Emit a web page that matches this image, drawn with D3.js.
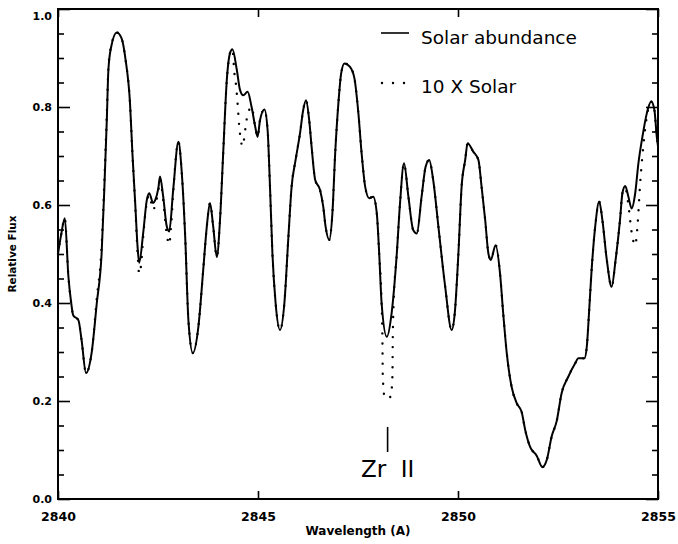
<!DOCTYPE html>
<html>
<head>
<meta charset="utf-8">
<script src="https://cdn.jsdelivr.net/npm/d3@7"></script>
<style>
  body { margin: 0; background: #fff; }
  text { font-family: "DejaVu Sans", sans-serif; fill: #000; }
</style>
</head>
<body>
<div id="chart"></div>
<script>
// solar abundance spectrum
const wavelength = [
  2840.00, 2840.08, 2840.17, 2840.26, 2840.33, 2840.38, 2840.51, 2840.59, 2840.70, 2840.84,
  2840.97, 2841.09, 2841.16, 2841.22, 2841.26, 2841.33, 2841.47, 2841.59, 2841.69, 2841.80,
  2841.86, 2841.93, 2841.99, 2842.03, 2842.13, 2842.22, 2842.28, 2842.38, 2842.43, 2842.51,
  2842.55, 2842.63, 2842.72, 2842.78, 2842.88, 2843.01, 2843.09, 2843.18, 2843.26, 2843.37,
  2843.51, 2843.63, 2843.72, 2843.80, 2843.88, 2843.97, 2844.05, 2844.13, 2844.22, 2844.30,
  2844.36, 2844.47, 2844.55, 2844.63, 2844.74, 2844.84, 2844.93, 2844.99, 2845.05, 2845.16,
  2845.24, 2845.30, 2845.36, 2845.44, 2845.55, 2845.66, 2845.76, 2845.84, 2845.94, 2846.05,
  2846.13, 2846.20, 2846.28, 2846.34, 2846.43, 2846.55, 2846.63, 2846.69, 2846.78, 2846.86,
  2846.93, 2847.01, 2847.08, 2847.16, 2847.30, 2847.41, 2847.51, 2847.59, 2847.68, 2847.78,
  2847.88, 2847.97, 2848.03, 2848.09, 2848.22, 2848.34, 2848.47, 2848.55, 2848.65, 2848.76,
  2848.88, 2848.97, 2849.09, 2849.19, 2849.28, 2849.38, 2849.51, 2849.68, 2849.84, 2849.92,
  2850.01, 2850.09, 2850.18, 2850.24, 2850.38, 2850.51, 2850.59, 2850.68, 2850.76, 2850.82,
  2850.94, 2851.05, 2851.13, 2851.22, 2851.34, 2851.47, 2851.59, 2851.68, 2851.80, 2851.97,
  2852.11, 2852.22, 2852.34, 2852.47, 2852.59, 2852.76, 2852.93, 2853.01, 2853.16, 2853.22,
  2853.28, 2853.34, 2853.43, 2853.53, 2853.61, 2853.72, 2853.84, 2853.94, 2854.05, 2854.11,
  2854.18, 2854.26, 2854.34, 2854.43, 2854.51, 2854.61, 2854.72, 2854.83, 2854.91, 2854.97,
  2855.00
];
const solarFlux = [
  0.500, 0.540, 0.573, 0.454, 0.400, 0.375, 0.365, 0.324, 0.257, 0.298,
  0.400, 0.500, 0.637, 0.773, 0.876, 0.923, 0.952, 0.940, 0.896, 0.808,
  0.706, 0.604, 0.514, 0.482, 0.543, 0.610, 0.624, 0.604, 0.610, 0.635,
  0.658, 0.617, 0.556, 0.546, 0.631, 0.729, 0.671, 0.535, 0.365, 0.298,
  0.352, 0.467, 0.556, 0.604, 0.556, 0.494, 0.569, 0.706, 0.855, 0.910,
  0.918, 0.876, 0.835, 0.824, 0.831, 0.800, 0.760, 0.739, 0.773, 0.795,
  0.753, 0.637, 0.502, 0.400, 0.345, 0.400, 0.535, 0.637, 0.692, 0.746,
  0.794, 0.814, 0.773, 0.719, 0.651, 0.631, 0.597, 0.556, 0.529, 0.583,
  0.706, 0.808, 0.869, 0.889, 0.882, 0.859, 0.787, 0.706, 0.637, 0.614,
  0.617, 0.583, 0.501, 0.400, 0.331, 0.379, 0.501, 0.603, 0.685, 0.617,
  0.549, 0.542, 0.617, 0.678, 0.692, 0.651, 0.556, 0.433, 0.345, 0.380,
  0.501, 0.637, 0.692, 0.726, 0.709, 0.692, 0.637, 0.569, 0.501, 0.488,
  0.518, 0.461, 0.379, 0.297, 0.229, 0.195, 0.178, 0.141, 0.107, 0.088,
  0.065, 0.080, 0.127, 0.160, 0.216, 0.250, 0.277, 0.287, 0.287, 0.311,
  0.386, 0.467, 0.556, 0.607, 0.569, 0.488, 0.433, 0.488, 0.569, 0.624,
  0.639, 0.617, 0.593, 0.624, 0.685, 0.739, 0.787, 0.811, 0.794, 0.739,
  0.720
];

// 10 x solar spectrum, differs from solar at the Zr II lines
const tenXWavelength = [
  2840.00, 2840.08, 2840.17, 2840.26, 2840.33, 2840.38, 2840.51, 2840.59, 2840.70, 2840.84,
  2840.97, 2841.09, 2841.16, 2841.22, 2841.26, 2841.33, 2841.47, 2841.59, 2841.69, 2841.80,
  2841.86, 2841.93, 2841.99, 2842.03, 2842.08, 2842.13, 2842.22, 2842.28, 2842.38, 2842.43,
  2842.51, 2842.55, 2842.63, 2842.72, 2842.78, 2842.83, 2842.88, 2843.01, 2843.09, 2843.18,
  2843.26, 2843.37, 2843.51, 2843.63, 2843.72, 2843.80, 2843.88, 2843.97, 2844.05, 2844.13,
  2844.22, 2844.30, 2844.36, 2844.41, 2844.45, 2844.49, 2844.53, 2844.56, 2844.61, 2844.66,
  2844.69, 2844.74, 2844.84, 2844.93, 2844.99, 2845.05, 2845.16, 2845.24, 2845.30, 2845.36,
  2845.44, 2845.55, 2845.66, 2845.76, 2845.84, 2845.94, 2846.05, 2846.13, 2846.20, 2846.28,
  2846.34, 2846.43, 2846.55, 2846.63, 2846.69, 2846.78, 2846.86, 2846.93, 2847.01, 2847.08,
  2847.16, 2847.30, 2847.41, 2847.51, 2847.59, 2847.68, 2847.78, 2847.88, 2847.97, 2848.03,
  2848.09, 2848.11, 2848.12, 2848.16, 2848.24, 2848.32, 2848.36, 2848.37, 2848.39, 2848.47,
  2848.55, 2848.65, 2848.76, 2848.88, 2848.97, 2849.09, 2849.19, 2849.28, 2849.38, 2849.51,
  2849.68, 2849.84, 2849.92, 2850.01, 2850.09, 2850.18, 2850.24, 2850.38, 2850.51, 2850.59,
  2850.68, 2850.76, 2850.82, 2850.94, 2851.05, 2851.13, 2851.22, 2851.34, 2851.47, 2851.59,
  2851.68, 2851.80, 2851.97, 2852.11, 2852.22, 2852.34, 2852.47, 2852.59, 2852.76, 2852.93,
  2853.01, 2853.16, 2853.22, 2853.28, 2853.34, 2853.43, 2853.53, 2853.61, 2853.72, 2853.84,
  2853.94, 2854.05, 2854.11, 2854.18, 2854.26, 2854.34, 2854.43, 2854.49, 2854.55, 2854.61,
  2854.72, 2854.83, 2854.91, 2854.97, 2855.00
];
const tenXFlux = [
  0.500, 0.540, 0.573, 0.454, 0.400, 0.375, 0.365, 0.324, 0.257, 0.298,
  0.410, 0.515, 0.650, 0.785, 0.880, 0.925, 0.952, 0.940, 0.896, 0.808,
  0.706, 0.600, 0.500, 0.460, 0.480, 0.535, 0.605, 0.620, 0.590, 0.600,
  0.630, 0.652, 0.610, 0.540, 0.520, 0.560, 0.625, 0.729, 0.671, 0.535,
  0.365, 0.298, 0.352, 0.467, 0.556, 0.604, 0.556, 0.494, 0.569, 0.706,
  0.855, 0.910, 0.918, 0.869, 0.845, 0.807, 0.761, 0.739, 0.720, 0.739,
  0.760, 0.784, 0.800, 0.760, 0.739, 0.773, 0.795, 0.753, 0.637, 0.502,
  0.400, 0.345, 0.400, 0.535, 0.637, 0.692, 0.746, 0.794, 0.814, 0.773,
  0.719, 0.651, 0.631, 0.597, 0.556, 0.529, 0.583, 0.706, 0.808, 0.869,
  0.889, 0.882, 0.859, 0.787, 0.706, 0.637, 0.614, 0.617, 0.583, 0.500,
  0.400, 0.330, 0.250, 0.210, 0.205, 0.210, 0.250, 0.330, 0.400, 0.500,
  0.603, 0.685, 0.617, 0.549, 0.542, 0.617, 0.678, 0.692, 0.651, 0.556,
  0.433, 0.345, 0.380, 0.501, 0.637, 0.692, 0.726, 0.709, 0.692, 0.637,
  0.569, 0.501, 0.488, 0.518, 0.461, 0.379, 0.297, 0.229, 0.195, 0.178,
  0.141, 0.107, 0.088, 0.065, 0.080, 0.127, 0.160, 0.216, 0.250, 0.277,
  0.287, 0.287, 0.311, 0.386, 0.467, 0.556, 0.607, 0.569, 0.488, 0.433,
  0.488, 0.569, 0.624, 0.635, 0.600, 0.545, 0.518, 0.560, 0.640, 0.700,
  0.780, 0.811, 0.794, 0.739, 0.720
];

const xTicks = [2840, 2845, 2850, 2855];
const yTicks = [0, 0.2, 0.4, 0.6, 0.8, 1.0];
const yMinorTicks = [0.05, 0.1, 0.15, 0.25, 0.3, 0.35, 0.45, 0.5, 0.55, 0.65, 0.7, 0.75, 0.85, 0.9, 0.95];
const legendLabels = ["Solar abundance", "10 X Solar"];
const lineLabel = "Zr  II";
const lineWavelength = 2848.24;

const margin = { top: 9, right: 20, bottom: 45, left: 58 };
const width = 678 - margin.left - margin.right;
const height = 544 - margin.top - margin.bottom;

const svg = d3.select("#chart").append("svg")
  .attr("width", 678)
  .attr("height", 544);

svg.append("rect").attr("width", 678).attr("height", 544).attr("fill", "#fff");

const g = svg.append("g")
  .attr("transform", `translate(${margin.left},${margin.top})`);

const x = d3.scaleLinear().domain([2840, 2855]).range([0, width]);
const y = d3.scaleLinear().domain([0, 1]).range([height, 0]);

// ticks, all pointing inwards
function styleAxis(sel) {
  sel.select(".domain").remove();
  sel.selectAll(".tick line").attr("stroke", "#000").attr("stroke-width", 1.6);
}

g.append("g")
  .call(d3.axisLeft(y).tickValues(yTicks).tickSize(-12).tickPadding(6).tickFormat(d3.format(".1f")))
  .call(styleAxis)
  .call(s => s.selectAll("text")
    .style("font-size", "11px").style("font-weight", "bold")
    .attr("y", d => d === 1 ? 7 : 0));

g.append("g")
  .call(d3.axisLeft(y).tickValues(yMinorTicks).tickSize(-6).tickFormat(""))
  .call(styleAxis);

g.append("g")
  .attr("transform", `translate(${width},0)`)
  .call(d3.axisRight(y).tickValues(yTicks).tickSize(-12).tickFormat(""))
  .call(styleAxis);

g.append("g")
  .attr("transform", `translate(${width},0)`)
  .call(d3.axisRight(y).tickValues(yMinorTicks).tickSize(-6).tickFormat(""))
  .call(styleAxis);

g.append("g")
  .attr("transform", `translate(0,${height})`)
  .call(d3.axisBottom(x).tickValues(xTicks).tickSize(-8).tickPadding(13).tickFormat(d3.format("d")))
  .call(styleAxis)
  .call(s => s.selectAll("text").style("font-size", "12.5px").style("font-weight", "bold"));

g.append("g")
  .call(d3.axisTop(x).tickValues(xTicks).tickSize(-8).tickFormat(""))
  .call(styleAxis);

// frame
g.append("rect")
  .attr("width", width)
  .attr("height", height)
  .attr("fill", "none")
  .attr("stroke", "#000")
  .attr("stroke-width", 2);

// axis titles
g.append("text")
  .attr("x", width / 2)
  .attr("y", height + 36)
  .attr("text-anchor", "middle")
  .style("font-size", "12px")
  .style("font-weight", "bold")
  .text("Wavelength (A)");

g.append("text")
  .attr("transform", `translate(${-margin.left + 16},${height / 2}) rotate(-90)`)
  .attr("text-anchor", "middle")
  .style("font-size", "10.5px")
  .style("font-weight", "bold")
  .text("Relative Flux");

const solarData = wavelength.map((w, i) => ({ w: w, f: solarFlux[i] }));
const tenXData = tenXWavelength.map((w, i) => ({ w: w, f: tenXFlux[i] }));

const line = d3.line()
  .x(d => x(d.w))
  .y(d => y(d.f))
  .curve(d3.curveMonotoneX);

// dotted 10x solar under the solid line
g.append("path")
  .datum(tenXData)
  .attr("fill", "none")
  .attr("stroke", "#000")
  .attr("stroke-width", 2.4)
  .attr("stroke-linecap", "round")
  .attr("stroke-dasharray", "0,10")
  .attr("d", line);

g.append("path")
  .datum(solarData)
  .attr("fill", "none")
  .attr("stroke", "#000")
  .attr("stroke-width", 2)
  .attr("stroke-linejoin", "round")
  .attr("d", line);

// legend
const legend = svg.append("g");
legend.append("line")
  .attr("x1", 381).attr("x2", 409)
  .attr("y1", 33).attr("y2", 33)
  .attr("stroke", "#000").attr("stroke-width", 1.6);
legend.append("line")
  .attr("x1", 382).attr("x2", 405)
  .attr("y1", 83).attr("y2", 83)
  .attr("stroke", "#000").attr("stroke-width", 2.4)
  .attr("stroke-linecap", "round")
  .attr("stroke-dasharray", "0,11");
legend.selectAll("text.leg")
  .data(legendLabels)
  .enter()
  .append("text")
  .attr("class", "leg")
  .attr("x", 421)
  .attr("y", (d, i) => 44 + i * 49)
  .style("font-size", "18.5px")
  .text(d => d);

// Zr II marker
g.append("line")
  .attr("x1", x(lineWavelength)).attr("x2", x(lineWavelength))
  .attr("y1", 418).attr("y2", 443)
  .attr("stroke", "#000").attr("stroke-width", 1.6);
g.append("text")
  .attr("x", x(lineWavelength))
  .attr("y", 468)
  .attr("text-anchor", "middle")
  .style("font-size", "23px")
  .style("white-space", "pre")
  .text(lineLabel);
</script>
</body>
</html>
